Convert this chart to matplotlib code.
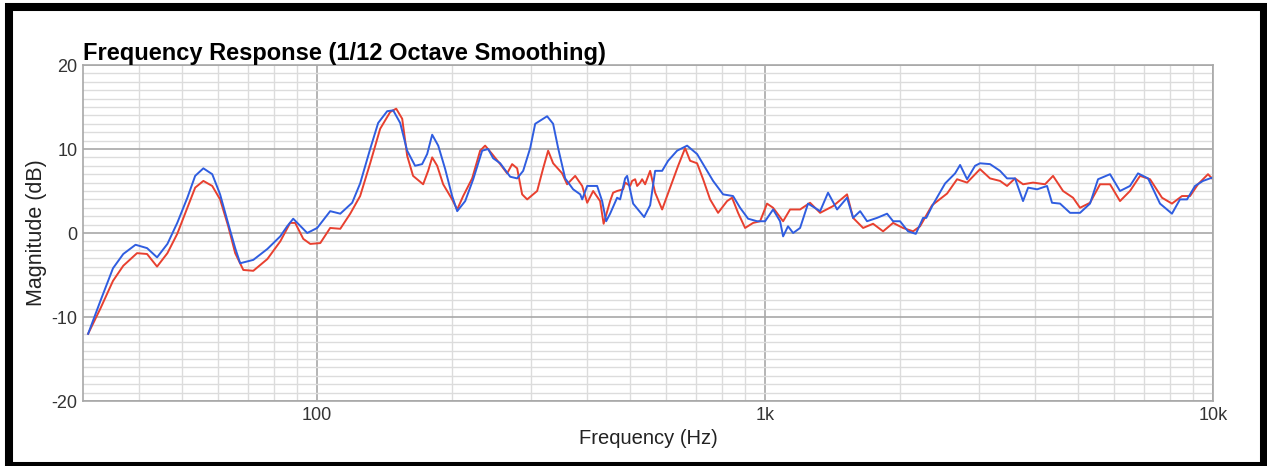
import matplotlib
matplotlib.use("Agg")
import matplotlib.pyplot as plt
from matplotlib.patches import Rectangle
from matplotlib.ticker import FixedLocator, NullFormatter

# blue trace
blue_hz = [30.8, 32.8, 35.0, 36.9, 39.3, 41.7, 43.9, 46.3, 48.7, 51.3, 53.4, 55.7,
           58.3, 60.7, 63.3, 65.6, 67.3, 72.0, 77.4, 82.7, 85.7, 88.4, 90.7, 95.0,
           100, 106.9, 112.6, 119.7, 124.7, 131.3, 136.8, 143.3, 147.8, 153.2, 158.8,
           165.4, 171.5, 176.0, 180.6, 186.3, 193.1, 200.1, 205.4, 214.0, 223.0, 233.5,
           240.8, 247.1, 256.2, 269.7, 279.5, 288.3, 298.9, 306.7, 326.1, 336.3, 345.1,
           357.8, 372.8, 386.6, 390.5, 400.7, 421.7, 432.7, 441.7, 450.8, 467.3, 474.6,
           487.0, 492.0, 507.4, 537.0, 553.8, 568.2, 589.0, 607.4, 636.2, 669.7, 705.0,
           727.1, 765.4, 805.8, 848.2, 879.4, 916.4, 959.7, 1000, 1042, 1080, 1097,
           1125, 1155, 1197, 1247, 1327, 1382, 1448, 1524, 1572, 1630, 1689, 1778,
           1872, 1931, 2001, 2085, 2170, 2253, 2290, 2371, 2523, 2656, 2725, 2825,
           2943, 3019, 3178, 3346, 3469, 3614, 3766, 3866, 4049, 4261, 4371, 4555,
           4796, 5048, 5314, 5538, 5890, 6200, 6526, 6801, 7161, 7615, 8098, 8438,
           8750, 9117, 9499, 9846, 10000]
blue_db = [-12.0, -8.1, -4.2, -2.5, -1.4, -1.8, -2.9, -1.3, 1.2, 4.2, 6.8, 7.7,
           7.0, 4.6, 1.1, -1.8, -3.6, -3.2, -1.9, -0.4, 0.8, 1.7, 1.1, 0.0,
           0.6, 2.6, 2.3, 3.6, 5.9, 10.0, 13.1, 14.5, 14.6, 13.1, 9.8,
           8.0, 8.2, 9.4, 11.7, 10.4, 7.6, 4.4, 2.6, 3.8, 6.4, 9.8,
           10.0, 8.9, 8.3, 6.7, 6.5, 7.4, 10.1, 13.0, 13.9, 13.0, 10.1,
           6.5, 5.2, 4.6, 4.0, 5.6, 5.6, 3.8, 1.4, 2.3, 4.2, 4.0,
           6.5, 6.8, 3.5, 1.9, 3.3, 7.4, 7.4, 8.6, 9.8, 10.4, 9.4,
           8.2, 6.2, 4.6, 4.4, 3.0, 1.7, 1.4, 1.4, 2.8, 1.4, -0.4,
           0.8, 0.0, 0.6, 3.5, 2.6, 4.8, 2.8, 4.2, 1.8, 2.6, 1.4, 1.8,
           2.3, 1.4, 1.4, 0.2, -0.1, 1.8, 1.8, 3.4, 5.9, 7.1, 8.1, 6.4,
           8.0, 8.3, 8.2, 7.4, 6.5, 6.5, 3.8, 5.4, 5.2, 5.6, 3.6, 3.5,
           2.4, 2.4, 3.5, 6.4, 7.0, 5.0, 5.6, 7.1, 6.5, 3.5, 2.3, 4.0,
           4.0, 5.6, 6.2, 6.5, 6.6]

# red trace
red_hz = [30.8, 32.8, 35.0, 36.9, 39.6, 41.7, 43.9, 46.3, 48.7, 51.3, 53.4, 55.7,
          58.3, 60.7, 63.3, 65.6, 68.4, 72.0, 77.4, 82.7, 87.0, 89.3, 93.1, 96.5,
          101.6, 106.9, 112.6, 118.5, 124.7, 131.3, 138.2, 145.5, 150.1, 154.8, 158.8,
          163.7, 172.4, 176.9, 180.6, 185.3, 191.1, 200.1, 205.4, 211.8, 221.8, 231.1,
          237.1, 245.8, 256.2, 265.5, 272.4, 279.5, 286.8, 294.3, 309.8, 319.5, 327.8,
          336.3, 352.3, 361.4, 376.7, 390.5, 400.7, 413.2, 428.2, 436.0, 450.8, 457.8,
          467.3, 482.0, 487.0, 499.6, 504.8, 512.7, 518.0, 526.0, 531.4, 539.7, 553.8,
          568.2, 589.0, 613.7, 639.5, 662.9, 680.1, 705.0, 727.1, 753.7, 785.3, 822.5,
          843.8, 870.3, 902.3, 940.2, 974.6, 1010, 1042, 1097, 1137, 1197, 1260,
          1327, 1418, 1524, 1572, 1655, 1742, 1834, 1931, 2032, 2140, 2218, 2359,
          2549, 2683, 2825, 3019, 3178, 3346, 3469, 3614, 3766, 3966, 4217, 4394,
          4626, 4870, 5048, 5314, 5595, 5890, 6200, 6526, 6872, 7235, 7694, 8098,
          8526, 8887, 9258, 9746, 9950]
red_db = [-12.0, -9.0, -5.7, -3.9, -2.4, -2.5, -4.0, -2.4, -0.1, 3.0, 5.4, 6.2,
          5.6, 4.0, 0.8, -2.4, -4.4, -4.5, -3.1, -1.0, 1.2, 1.2, -0.7, -1.3,
          -1.2, 0.6, 0.5, 2.3, 4.4, 8.3, 12.4, 14.4, 14.8, 13.6, 9.2,
          6.8, 5.8, 7.4, 9.0, 8.0, 5.8, 4.0, 2.8, 4.4, 6.5, 9.8,
          10.4, 9.4, 8.2, 7.1, 8.2, 7.7, 4.6, 4.0, 5.0, 7.7, 9.8,
          8.3, 7.1, 5.8, 6.8, 5.6, 3.6, 5.0, 3.8, 1.1, 3.8, 4.8,
          5.0, 5.2, 6.0, 5.6, 6.2, 6.4, 5.6, 6.0, 6.4, 5.8, 7.4,
          4.8, 2.8, 5.4, 8.0, 10.1, 8.6, 8.3, 6.4, 4.0, 2.4, 3.8,
          4.2, 2.4, 0.6, 1.2, 1.4, 3.5, 3.0, 1.4, 2.8, 2.8, 3.6,
          2.4, 3.2, 4.6, 1.8, 0.6, 1.1, 0.2, 1.2, 0.6, 0.2, 0.8, 3.3,
          4.7, 6.4, 6.0, 7.6, 6.5, 6.2, 5.6, 6.5, 5.8, 6.0, 5.8, 6.8,
          5.0, 4.2, 3.0, 3.6, 5.8, 5.8, 3.8, 5.0, 6.8, 6.4, 4.2, 3.5,
          4.4, 4.4, 5.8, 7.0, 6.5]

x_major = [100, 1000, 10000]
x_labels = ["100", "1k", "10k"]
x_minor = [40, 50, 60, 70, 80, 90, 200, 300, 400, 500, 600, 700, 800, 900,
           2000, 3000, 4000, 5000, 6000, 7000, 8000, 9000]
y_major = [-20, -10, 0, 10, 20]

plt.rcParams["font.family"] = ["Liberation Sans", "DejaVu Sans"]
plt.rcParams["axes.unicode_minus"] = False

fig = plt.figure(figsize=(12.67, 4.66), dpi=100)
W, H = 1267, 466
ax = fig.add_axes([83 / W, (H - 401) / H, (1213 - 83) / W, (401 - 65) / H])

ax.set_xscale("log")
ax.set_xlim(30, 10000)
ax.set_ylim(-20, 20)

ax.xaxis.set_major_locator(FixedLocator(x_major))
ax.set_xticklabels(x_labels)
ax.xaxis.set_minor_locator(FixedLocator(x_minor))
ax.xaxis.set_minor_formatter(NullFormatter())
ax.yaxis.set_major_locator(FixedLocator(y_major))
ax.yaxis.set_minor_locator(FixedLocator(range(-20, 21)))
ax.tick_params(which="both", length=0, labelsize=13, colors="#333333")
ax.tick_params(axis="x", pad=4)
ax.tick_params(axis="y", pad=4)

ax.grid(which="minor", color="#dcdcdc", linewidth=1.0)
ax.grid(which="major", color="#a8a8a8", linewidth=1.2)
ax.set_axisbelow(True)
for s in ax.spines.values():
    s.set_color("#a8a8a8")
    s.set_linewidth(1.2)

ax.plot(red_hz, red_db, color="#e8402f", linewidth=1.4, solid_joinstyle="round")
ax.plot(blue_hz, blue_db, color="#2f5de0", linewidth=1.4, solid_joinstyle="round")

ax.set_xlabel("Frequency (Hz)", fontsize=14.5, color="#222222")
ax.set_ylabel("Magnitude (dB)", fontsize=15.5, color="#222222")
ax.xaxis.set_label_coords(0.5, -0.083)
ax.yaxis.set_label_coords(-0.032, 0.5)
ax.set_title("Frequency Response (1/12 Octave Smoothing)", loc="left",
             fontsize=17, fontweight="bold", color="black", pad=3)

# black frame around the picture
fig.add_artist(Rectangle((9 / W, 0), (1264 - 9) / W, (H - 7) / H,
                         transform=fig.transFigure, fill=False,
                         edgecolor="black", linewidth=5.8))

fig.savefig("out.png", dpi=100)
